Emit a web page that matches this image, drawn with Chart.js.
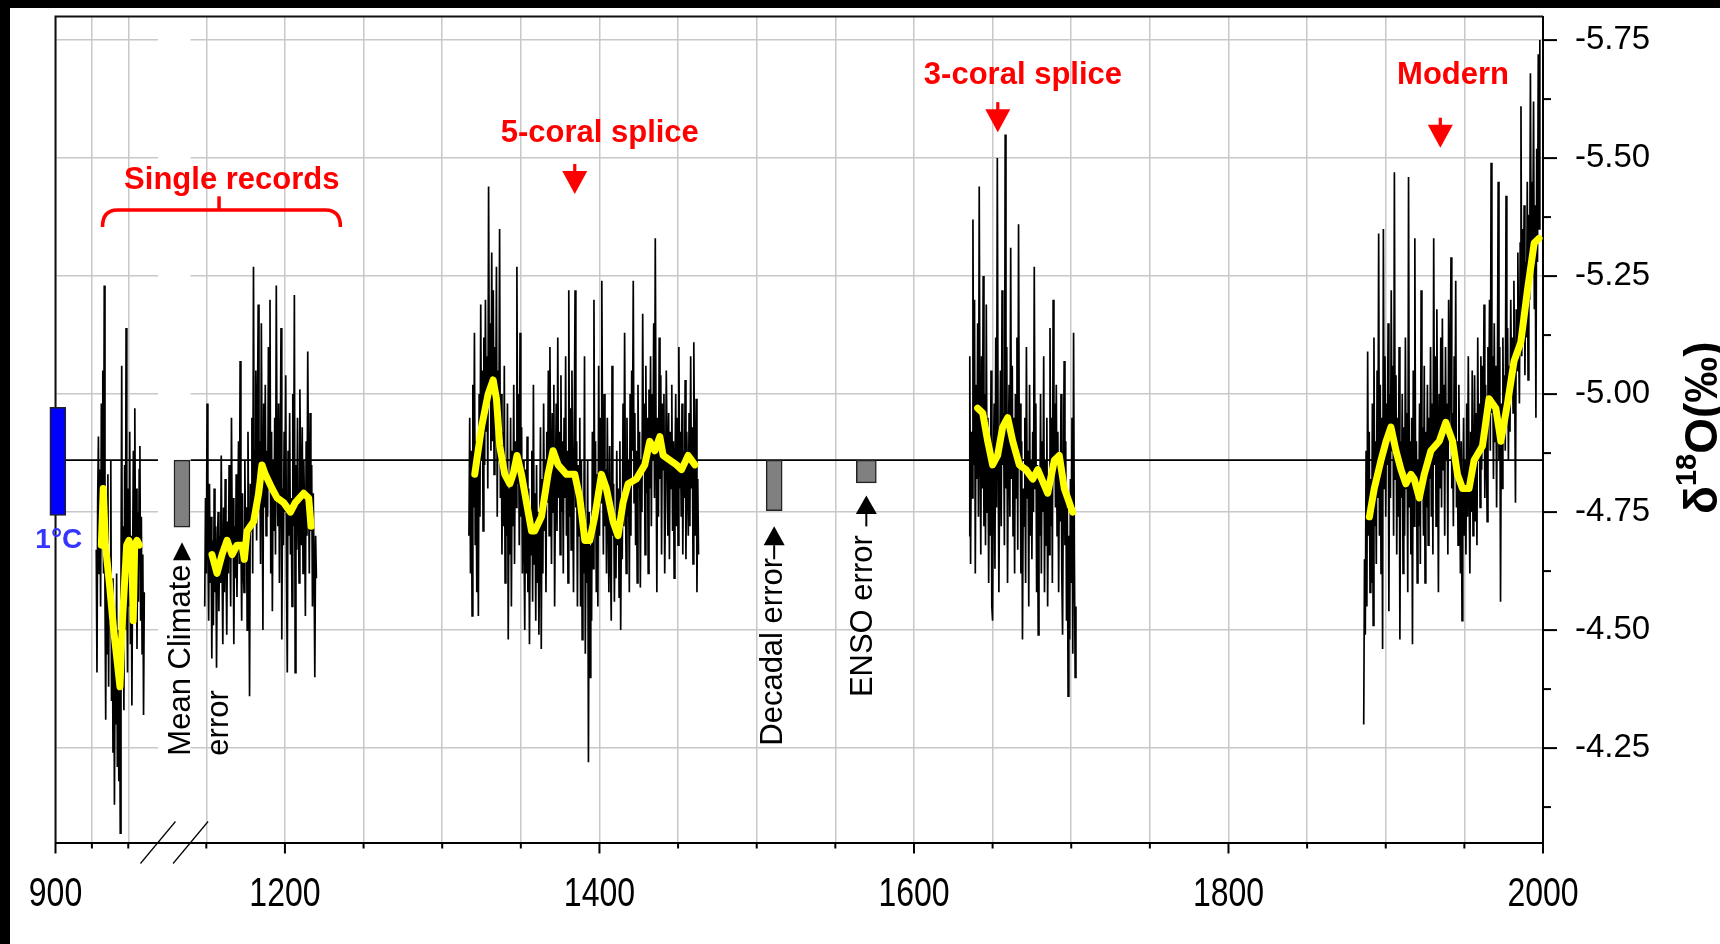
<!DOCTYPE html>
<html><head><meta charset="utf-8">
<script src="https://cdn.jsdelivr.net/npm/chart.js@4.4.1/dist/chart.umd.min.js"></script>
<style>html,body{margin:0;padding:0;background:#fff;overflow:hidden}</style>
</head><body><canvas id="c" width="1720" height="944"></canvas>
<script>
// ---------------- DATA ----------------
const STEP = 0.5; // years between samples of the raw coral records
const rec10Start = 928;
const rec10 = [-4.67,-4.41,-4.78,-4.91,-4.62,-4.84,-4.55,-4.98,-4.70,-5.05,-4.62,-5.23,-4.58,-4.31,-4.72,-4.45,-4.83,-4.38,-4.66,-4.52,-4.86,-4.35,-4.61,-4.24,-4.55,-4.13,-4.47,-4.30,-4.62,-4.21,-4.50,-4.18,-4.44,-4.07,-4.58,-5.06,-4.40,-4.72,-4.33,-4.85,-4.50,-5.14,-4.62,-4.41,-4.80,-4.55,-4.92,-4.47,-4.70,-4.34,-4.65,-4.88,-4.58,-4.97,-4.62,-4.80,-4.46,-4.75,-4.56,-4.84,-4.89,-4.52,-4.74,-4.45,-4.66,-4.32,-4.58];
const rec12Start = 1149;
const rec12 = [-4.55,-4.78,-4.62,-4.98,-4.70,-4.52,-4.81,-4.60,-4.74,-4.44,
-4.69,-4.51,-4.80,-4.58,-4.72,-4.42,-4.66,-4.75,-4.54,-4.70,
-4.60,-4.87,-4.64,-4.47,-4.76,-4.58,-4.82,-4.66,-4.49,-4.73,
-4.62,-4.85,-4.70,-4.55,-4.95,-4.68,-4.78,-4.47,-4.72,-4.61,
-4.83,-4.57,-4.74,-4.90,-4.64,-5.07,-4.70,-4.52,-4.79,-4.63,
-4.58,-4.86,-4.66,-4.76,-4.50,-4.92,-4.68,-4.36,-4.81,-4.71,
-4.95,-4.62,-5.27,-4.75,-4.88,-5.05,-4.69,-4.95,-5.19,-4.78,
-4.90,-4.64,-5.15,-4.83,-4.50,-4.98,-4.76,-5.02,-4.70,-4.88,
-4.74,-5.10,-4.80,-5.20,-4.62,-4.92,-4.54,-4.86,-4.71,-4.95,
-4.66,-5.23,-4.84,-4.72,-4.98,-4.60,-4.86,-5.14,-4.48,-4.80,
-4.68,-4.92,-4.75,-5.04,-4.62,-4.41,-4.88,-4.70,-4.96,-4.66,
-4.78,-4.55,-5.00,-4.72,-5.21,-4.41,-4.85,-4.67,-4.95,-4.75,
-4.60,-5.01,-4.82,-4.68,-4.93,-4.62,-4.86,-4.74,-4.53,-4.90,
-4.70,-5.09,-4.83,-4.62,-4.96,-4.71,-4.85,-4.55,-4.79,-4.64,
-4.40,-4.70,-4.61];
const rec14Start = 1317;
const rec14 = [-4.70,-4.95,-4.62,-4.88,-4.53,-5.02,-4.76,-5.13,-4.68,-4.90,
-4.58,-4.84,-4.53,-5.00,-4.74,-5.19,-4.86,-5.05,-4.71,-5.12,
-4.85,-5.20,-4.92,-5.08,-4.80,-5.44,-4.98,-5.15,-4.88,-5.30,
-4.90,-5.22,-4.83,-5.10,-4.95,-5.27,-4.74,-5.05,-4.86,-5.35,
-4.78,-5.00,-4.66,-4.92,-4.72,-5.06,-4.60,-4.85,-4.70,-4.98,
-4.48,-4.80,-4.66,-4.95,-4.55,-4.88,-4.72,-5.02,-4.64,-4.90,
-4.76,-5.27,-4.81,-5.00,-4.68,-5.13,-4.74,-4.93,-4.62,-4.86,
-4.70,-4.50,-4.84,-4.62,-4.91,-4.58,-4.80,-4.47,-4.73,-4.66,
-4.88,-4.56,-5.02,-4.64,-4.79,-4.52,-4.85,-4.60,-4.75,-4.49,
-4.70,-4.93,-4.46,-4.82,-4.62,-4.98,-4.71,-4.86,-4.58,-4.92,
-4.77,-5.05,-4.70,-5.10,-4.85,-4.64,-4.96,-4.75,-5.02,-4.55,
-4.80,-4.98,-4.71,-5.12,-4.78,-4.92,-4.66,-5.04,-4.75,-4.90,
-4.62,-4.95,-4.78,-5.08,-4.70,-4.88,-4.60,-5.22,-4.74,-4.97,
-4.67,-5.05,-4.81,-4.58,-4.93,-5.22,-4.76,-4.90,-4.55,-4.85,
-4.70,-4.95,-4.55,-4.86,-4.48,-4.78,-4.62,-5.08,-4.45,-4.72,
-4.60,-4.86,-4.22,-4.75,-4.40,-4.68,-4.52,-4.92,-4.63,-5.20,
-4.74,-4.90,-4.58,-4.83,-4.55,-5.06,-4.70,-4.95,-4.77,-5.24,
-4.88,-4.66,-5.00,-4.72,-4.84,-4.62,-4.95,-4.75,-4.58,-4.89,
-4.66,-4.52,-5.06,-4.70,-4.81,-4.56,-4.74,-4.61,-4.88,-4.68,
-4.80,-4.57,-4.90,-4.50,-4.76,-4.65,-4.98,-4.72,-5.13,-4.80,
-4.62,-4.95,-4.74,-4.86,-4.58,-5.00,-4.70,-5.05,-4.88,-5.24,
-4.77,-4.96,-4.68,-4.88,-4.60,-5.02,-4.80,-4.92,-4.59,-4.86,
-4.75,-5.17,-4.84,-4.98,-4.66,-5.06,-4.79,-4.95,-4.62,-5.01,
-4.80,-5.08,-4.72,-5.00,-4.86,-5.15,-4.78,-5.33,-4.90,-4.58,
-4.95,-4.74,-5.12,-4.82,-5.04,-4.66,-4.98,-4.84,-5.00,-4.62,
-4.78,-5.05,-4.88,-4.70,-4.96,-4.65,-4.92,-4.80,-5.02,-4.71,
-4.90,-4.61,-4.84,-5.00,-4.72,-4.95,-4.68,-5.10,-4.80,-4.92,
-4.74,-4.98,-4.66,-4.88,-4.78,-5.03,-4.65,-4.92,-4.82,-4.70,
-4.96,-4.72,-5.08,-4.80,-4.93,-4.64,-5.11,-4.85,-4.70,-4.99,
-4.58,-4.82,-4.66];
const rec17Start = 1635;
const rec17 = [-4.70,-5.08,-4.64,-4.92,-4.78,-5.37,-4.85,-5.20,-4.62,-5.02,
-4.82,-5.15,-4.74,-5.44,-4.90,-4.66,-5.08,-4.80,-5.25,-4.72,
-5.00,-4.68,-5.19,-4.75,-4.95,-4.60,-4.88,-4.70,-5.05,-4.55,
-4.52,-4.85,-4.98,-4.63,-5.12,-4.76,-5.50,-4.90,-4.58,-4.82,
-5.05,-4.72,-5.22,-4.85,-4.96,-4.68,-5.55,-4.80,-5.10,-4.60,
-4.88,-5.02,-4.74,-5.31,-4.82,-5.06,-4.70,-4.95,-4.62,-5.00,
-4.78,-5.12,-4.67,-5.36,-4.85,-4.98,-4.62,-4.90,-4.48,-4.80,
-4.72,-4.95,-4.60,-5.10,-4.78,-4.88,-4.55,-5.02,-4.70,-4.86,
-4.65,-4.92,-4.75,-5.27,-4.80,-4.98,-4.58,-4.85,-4.49,-4.82,
-4.70,-5.00,-4.62,-4.90,-4.75,-5.08,-4.58,-4.86,-4.68,-4.95,
-4.55,-4.80,-4.66,-5.14,-4.72,-4.95,-4.60,-5.20,-4.84,-4.98,
-4.76,-5.02,-4.70,-4.92,-4.58,-4.86,-4.73,-5.00,-4.62,-4.49,
-4.80,-5.07,-4.68,-4.90,-4.52,-4.76,-4.36,-4.70,-4.48,-4.82,
-4.60,-4.95,-4.45,-5.13,-4.66,-4.40,-4.55];
const recModStart = 1886;
const recMod = [-4.30,-4.65,-4.49,-4.88,-4.55,-5.09,-4.70,-4.92,-4.58,-4.82,
-4.60,-4.98,-4.51,-5.12,-4.72,-4.90,-4.64,-5.05,-4.78,-5.34,
-4.70,-5.02,-4.62,-4.95,-4.46,-5.35,-4.80,-5.08,-4.74,-4.98,
-4.85,-5.15,-4.54,-5.00,-4.78,-5.22,-4.88,-5.06,-4.70,-5.47,
-4.82,-5.04,-4.66,-4.95,-4.74,-5.10,-4.48,-4.90,-4.78,-5.00,
-4.62,-4.93,-4.70,-5.12,-4.80,-4.96,-4.58,-5.46,-4.76,-4.90,
-4.66,-4.95,-4.47,-5.05,-4.72,-5.33,-4.78,-4.90,-4.60,-4.86,
-4.72,-4.98,-4.64,-5.22,-4.80,-4.93,-4.70,-5.06,-4.60,-4.92,
-4.76,-5.02,-4.68,-4.95,-4.82,-5.10,-4.74,-4.98,-4.66,-5.33,
-4.85,-5.08,-4.72,-5.18,-4.90,-4.58,-5.00,-4.80,-5.12,-4.76,
-5.16,-4.84,-5.02,-4.70,-5.10,-4.86,-4.98,-4.66,-5.20,-4.90,
-5.05,-5.29,-4.80,-4.96,-4.72,-5.08,-4.84,-5.24,-4.76,-4.90,
-4.68,-5.02,-4.84,-4.62,-4.90,-4.52,-4.78,-4.95,-4.70,-4.86,
-4.66,-4.98,-4.74,-5.08,-4.80,-4.62,-4.92,-4.75,-5.05,-4.70,
-4.82,-5.04,-4.73,-4.96,-4.68,-5.12,-4.86,-4.98,-4.76,-5.08,
-4.84,-5.06,-4.90,-5.19,-4.78,-5.02,-4.88,-4.73,-5.10,-4.95,
-5.20,-4.88,-5.49,-4.96,-5.08,-4.82,-5.15,-4.90,-5.06,-4.76,
-5.02,-5.45,-4.86,-5.10,-4.56,-4.98,-4.80,-5.12,-4.90,-5.04,
-4.88,-5.42,-4.95,-5.14,-4.86,-5.06,-4.92,-5.20,-5.00,-5.12,
-4.96,-5.24,-5.02,-4.77,-5.18,-5.05,-5.30,-5.10,-4.98,-5.32,
-5.61,-5.08,-5.35,-5.15,-5.40,-5.04,-5.28,-5.12,-5.45,-5.03,
-5.38,-5.20,-5.68,-5.25,-5.45,-5.30,-5.62,-5.18,-5.40,-4.95,
-5.52,-5.28,-5.72,-5.35,-5.75];

// smoothed (yellow) curves
const yel10Years = [931.5,932.8,934.3,937,940,942.5,944.3,946,948.9,950.5,952.4,953.4,954.4,956,957.6];
const yel10Vals  = [-4.68,-4.80,-4.68,-4.60,-4.50,-4.43,-4.38,-4.52,-4.68,-4.69,-4.67,-4.52,-4.68,-4.69,-4.68];
const yel12Years = [1153.6,1156.8,1160,1163.2,1166.4,1169.5,1172.7,1174.2,1175.9,1180.1,1183.3,1185.4,1187.5,1191.8,1195,1199.2,1203.5,1206.6,1211.9,1215.1,1216.6];
const yel12Vals  = [-4.66,-4.62,-4.66,-4.69,-4.66,-4.68,-4.68,-4.65,-4.71,-4.73,-4.79,-4.85,-4.83,-4.80,-4.78,-4.77,-4.75,-4.77,-4.79,-4.78,-4.72];
const yel14Years = [1320.7,1325,1329.2,1332.4,1334.5,1336.6,1339.8,1343,1345.1,1347.6,1350.4,1353.6,1356.8,1358.8,1363.1,1367.3,1370.5,1373.7,1379,1384.3,1387.5,1390.7,1393.8,1397,1401.3,1404.4,1408.7,1411.8,1415,1418.2,1423.5,1428.8,1432,1435.2,1438.4,1440.5,1444.7,1449,1452.2,1456.4,1460.7];
const yel14Vals  = [-4.83,-4.93,-5.00,-5.03,-4.99,-4.89,-4.83,-4.81,-4.83,-4.87,-4.83,-4.77,-4.71,-4.71,-4.74,-4.83,-4.88,-4.85,-4.83,-4.83,-4.78,-4.69,-4.69,-4.74,-4.83,-4.80,-4.73,-4.70,-4.77,-4.81,-4.82,-4.85,-4.90,-4.88,-4.91,-4.87,-4.86,-4.85,-4.84,-4.87,-4.85];
const yel17Years = [1640.5,1643.7,1646.9,1650,1653.2,1656.4,1659.6,1662.8,1667,1671.2,1675.5,1678.7,1685,1689.3,1692.4,1695.6,1700.9];
const yel17Vals  = [-4.97,-4.96,-4.90,-4.85,-4.87,-4.93,-4.95,-4.90,-4.85,-4.84,-4.82,-4.84,-4.79,-4.86,-4.87,-4.80,-4.75];
const yelModYears = [1889.6,1892.7,1897,1900.2,1903.3,1906.5,1909.7,1912.8,1916,1918.1,1921.3,1924.5,1928.7,1934,1938.2,1942.5,1945.6,1948.8,1953,1956.2,1961.5,1965.7,1970,1973.2,1977.4,1981.6,1985.9,1990.1,1994.4,1997.5];
const yelModVals  = [-4.74,-4.80,-4.86,-4.90,-4.93,-4.88,-4.84,-4.81,-4.83,-4.82,-4.78,-4.83,-4.88,-4.90,-4.94,-4.90,-4.83,-4.80,-4.80,-4.86,-4.89,-4.99,-4.97,-4.90,-4.98,-5.07,-5.11,-5.22,-5.32,-5.33];

// modern mean reference line
const meanValue = -4.86;
const meanYears = [906, 970.4, null, 1140, 2000];

// error / scale bars
const errNames  = ['1°C', 'Mean Climate error', 'Decadal error', 'ENSO error'];
const errAt     = [901.6, 986.9, 1511.1, 1569.7];
const errTop    = [-4.972, -4.86, -4.86, -4.86];
const errBottom = [-4.743, -4.718, -4.753, -4.812];

// region labels
const regionLabels = ['Single records', '5-coral splice', '3-coral splice', 'Modern'];

// axis ticks
const xTickYears  = [900,925,950,1150,1200,1250,1300,1350,1400,1450,1500,1550,1600,1650,1700,1750,1800,1850,1900,1950,2000];
const xLabelYears = [900,1200,1400,1600,1800,2000];
const yTickVals   = [-5.75,-5.625,-5.5,-5.375,-5.25,-5.125,-5.0,-4.875,-4.75,-4.625,-4.5,-4.375,-4.25,-4.125];

// ---------------- AXIS BREAK MAPPING ----------------
const LEFT_END = 970.4, RIGHT_START = 1140;
const axisPos = (yr) => yr < 1100 ? 1054.1 + (yr - 900) * 0.92545 : yr;

// ---------------- STYLE / LAYOUT ----------------
const FONT = '"Liberation Sans", Arial, sans-serif';
Chart.defaults.font.family = FONT;

const errStyle = {
  colors: ['#0000ff', '#808080', '#808080', '#808080'],
  widths: [16, 16, 16, 20]
};
const regionStyle = [
  {x: 1166.2, v: -5.459},
  {x: 1400.2, v: -5.558, arrow: {x: 1384.3, v: -5.424}},
  {x: 1669.3, v: -5.680, arrow: {x: 1653.3, v: -5.555}},
  {x: 1942.8, v: -5.680, arrow: {x: 1934.7, v: -5.522}}
];
const errTextStyle = [
  null,
  {start: -4.234, base: [8.5, 46], tip: -4.686, head: 18, hw: 9, stem: 0},
  {start: -4.255, base: [8], tip: -4.72, head: 19, hw: 10.5, stem: 14},
  {start: -4.358, base: [6], tip: -4.785, head: 18.3, hw: 10.5, stem: 12.5}
];

const series = (start, vals) => vals.map((v, i) => ({x: axisPos(start + i * STEP), y: v}));
const pairs = (yrs, vals) => yrs.map((yr, i) => ({x: axisPos(yr), y: vals[i]}));

const blackDs = (d) => ({type: 'line', data: d, borderColor: '#000', borderWidth: 1.7, pointRadius: 0, tension: 0, order: 2});
const yellowDs = (d) => ({type: 'line', data: d, borderColor: '#ffff00', borderWidth: 7, pointRadius: 0, tension: 0, borderCapStyle: 'round', borderJoinStyle: 'round', order: 0});

const datasets = [
  blackDs(series(rec10Start, rec10)),
  blackDs(series(rec12Start, rec12)),
  blackDs(series(rec14Start, rec14)),
  blackDs(series(rec17Start, rec17)),
  blackDs(series(recModStart, recMod)),
  yellowDs(pairs(yel10Years, yel10Vals)),
  yellowDs(pairs(yel12Years, yel12Vals)),
  yellowDs(pairs(yel14Years, yel14Vals)),
  yellowDs(pairs(yel17Years, yel17Vals)),
  yellowDs(pairs(yelModYears, yelModVals)),
  {type: 'line', data: meanYears.map(yr => yr === null ? {x: 1130, y: null} : {x: axisPos(yr), y: meanValue}),
   borderColor: '#000', borderWidth: 1.8, pointRadius: 0, spanGaps: false, order: 3}
];
errNames.forEach((n, i) => {
  datasets.push({type: 'bar', label: n, data: [{x: axisPos(errAt[i]), y: [errTop[i], errBottom[i]]}],
    backgroundColor: errStyle.colors[i], borderColor: '#222', borderWidth: 1.5, borderSkipped: false,
    barThickness: errStyle.widths[i], grouped: false, clip: false, order: 1});
});

function line(ctx, x1, y1, x2, y2) { ctx.beginPath(); ctx.moveTo(x1, y1); ctx.lineTo(x2, y2); ctx.stroke(); }

const decor = {
  id: 'decor',
  beforeDraw(chart) {
    const {ctx, width, height} = chart;
    ctx.save();
    ctx.fillStyle = '#fff'; ctx.fillRect(0, 0, width, height);
    ctx.fillStyle = '#000'; ctx.fillRect(0, 0, 10, height); ctx.fillRect(0, 0, width, 8);
    ctx.restore();
  },
  beforeDatasetsDraw(chart) {
    const {ctx, chartArea: a, scales: {x}} = chart;
    const g0 = x.getPixelForValue(axisPos(LEFT_END)), g1 = x.getPixelForValue(RIGHT_START);
    ctx.save();
    ctx.fillStyle = '#fff';
    ctx.fillRect(g0, a.top + 1.5, g1 - g0, a.bottom - a.top - 3);
    ctx.strokeStyle = '#111'; ctx.lineWidth = 2;
    ctx.beginPath(); ctx.moveTo(a.left, a.bottom); ctx.lineTo(a.left, a.top); ctx.lineTo(a.right, a.top); ctx.stroke();
    ctx.restore();
  },
  afterDraw(chart) {
    const {ctx, chartArea: a, scales: {x, y}} = chart;
    const X = yr => x.getPixelForValue(axisPos(yr));
    const Y = v => y.getPixelForValue(v);
    ctx.save();
    // tick marks
    ctx.strokeStyle = '#000'; ctx.lineWidth = 2;
    x.ticks.forEach((t, i) => {
      const px = x.getPixelForValue(t.value);
      line(ctx, px, a.bottom, px, a.bottom + (xLabelYears.includes(xTickYears[i]) ? 11 : 6));
    });
    y.ticks.forEach(t => {
      const py = y.getPixelForValue(t.value);
      const major = Math.abs(t.value * 4 - Math.round(t.value * 4)) < 1e-6;
      line(ctx, a.right, py, a.right + (major ? 14 : 8), py);
    });
    // x tick labels (tall, condensed look of the original)
    ctx.fillStyle = '#000';
    ctx.font = '32px ' + FONT;
    ctx.textAlign = 'center'; ctx.textBaseline = 'middle';
    xLabelYears.forEach(yr => {
      ctx.save();
      ctx.translate(X(yr), 895);
      ctx.scale(1, 1.28);
      ctx.fillText(String(yr), 0, 0);
      ctx.restore();
    });
    // axis break marks
    ctx.lineWidth = 1.2;
    [X(LEFT_END), X(RIGHT_START)].forEach(gx => line(ctx, gx - 17.5, a.bottom + 21, gx + 17.5, a.bottom - 21));

    // brace for single records
    ctx.strokeStyle = '#ff0000'; ctx.lineWidth = 3.5; ctx.lineCap = 'butt';
    const bl = X(932.3), br = X(1235.3), bc = X(1158.1), bEnd = Y(-5.354), bTop = Y(-5.39), bTick = Y(-5.419);
    ctx.beginPath();
    ctx.moveTo(bl, bEnd); ctx.quadraticCurveTo(bl, bTop, bl + 15, bTop);
    ctx.lineTo(br - 15, bTop); ctx.quadraticCurveTo(br, bTop, br, bEnd);
    ctx.stroke();
    line(ctx, bc, bTop, bc, bTick);

    // red region labels + arrows
    ctx.fillStyle = '#ff0000';
    ctx.font = 'bold 31px ' + FONT;
    ctx.textAlign = 'center'; ctx.textBaseline = 'alphabetic';
    regionLabels.forEach((t, i) => {
      const s = regionStyle[i];
      ctx.fillText(t, X(s.x), Y(s.v) + 11.2);
      if (s.arrow) {
        const ax = X(s.arrow.x), tip = Y(s.arrow.v);
        ctx.beginPath();
        ctx.moveTo(ax - 12.5, tip - 23); ctx.lineTo(ax + 12.5, tip - 23); ctx.lineTo(ax, tip); ctx.closePath(); ctx.fill();
        ctx.fillRect(ax - 1.6, tip - 30, 3.2, 8);
      }
    });

    // 1°C label
    ctx.fillStyle = '#3535ff';
    ctx.font = 'bold 28px ' + FONT;
    ctx.fillText(errNames[0], X(errAt[0]) + 1, Y(errBottom[0]) + 33);

    // error annotations (rotated text + arrows)
    ctx.fillStyle = '#000'; ctx.strokeStyle = '#000';
    ctx.font = '31px ' + FONT;
    ctx.textAlign = 'left';
    errNames.forEach((n, i) => {
      const s = errTextStyle[i];
      if (!s) return;
      const cx = X(errAt[i]);
      const lines = i === 1 ? ['Mean Climate', 'error'] : [n];
      lines.forEach((ln, k) => {
        ctx.save();
        ctx.translate(cx + s.base[k], Y(s.start));
        ctx.rotate(-Math.PI / 2);
        ctx.fillText(ln, 0, 0);
        ctx.restore();
      });
      const tip = Y(s.tip);
      ctx.beginPath();
      ctx.moveTo(cx, tip); ctx.lineTo(cx + s.hw, tip + s.head); ctx.lineTo(cx - s.hw, tip + s.head); ctx.closePath(); ctx.fill();
      if (s.stem) { ctx.lineWidth = 2; line(ctx, cx, tip + s.head, cx, tip + s.head + s.stem); }
    });

    // y-axis title δ18O(‰)
    ctx.save();
    ctx.translate(1717, 514);
    ctx.rotate(-Math.PI / 2);
    ctx.fillStyle = '#000';
    ctx.textAlign = 'left'; ctx.textBaseline = 'alphabetic';
    ctx.font = 'bold 46px ' + FONT;
    ctx.fillText('δ', 0, 0);
    let w = ctx.measureText('δ').width;
    ctx.font = 'bold 29px ' + FONT;
    ctx.fillText('18', w, -21);
    w += ctx.measureText('18').width;
    ctx.font = 'bold 46px ' + FONT;
    ctx.fillText('O(‰)', w, 0);
    ctx.restore();

    ctx.restore();
  }
};

new Chart(document.getElementById('c'), {
  type: 'line',
  data: {datasets},
  plugins: [decor],
  options: {
    responsive: false, animation: false, devicePixelRatio: 1, events: [],
    layout: {padding: {left: 55.5, top: 16.5, right: 0, bottom: 0}},
    plugins: {legend: {display: false}, tooltip: {enabled: false}},
    scales: {
      x: {
        type: 'linear', position: 'bottom', min: 1054.1, max: 2000, offset: false,
        afterBuildTicks: (s) => { s.ticks = xTickYears.map(yr => ({value: axisPos(yr)})); },
        afterFit: (s) => { s.height = 101.5; s.paddingLeft = 0; s.paddingRight = 0; },
        ticks: {
          display: false, autoSkip: false, maxRotation: 0, minRotation: 0,
          callback: (v, i) => xLabelYears.includes(xTickYears[i]) ? String(xTickYears[i]) : ''
        },
        grid: {color: '#c8c8c8', lineWidth: 1.5, drawTicks: false, offset: false},
        border: {display: true, color: '#000', width: 2}
      },
      y: {
        type: 'linear', position: 'right', reverse: true, min: -5.80, max: -4.05,
        afterBuildTicks: (s) => { s.ticks = yTickVals.map(v => ({value: v})); },
        afterFit: (s) => { s.width = 177; s.paddingTop = 0; s.paddingBottom = 0; },
        ticks: {
          autoSkip: false, padding: 32, color: '#000', font: {size: 33},
          callback: (v) => Math.abs(v * 4 - Math.round(v * 4)) < 1e-6 ? v.toFixed(2) : ''
        },
        grid: {
          color: (c) => (c.tick && Math.abs(c.tick.value * 4 - Math.round(c.tick.value * 4)) < 1e-6) ? '#c8c8c8' : 'rgba(0,0,0,0)',
          lineWidth: 1.5, drawTicks: false
        },
        border: {display: true, color: '#000', width: 2}
      }
    }
  }
});
</script></body></html>
